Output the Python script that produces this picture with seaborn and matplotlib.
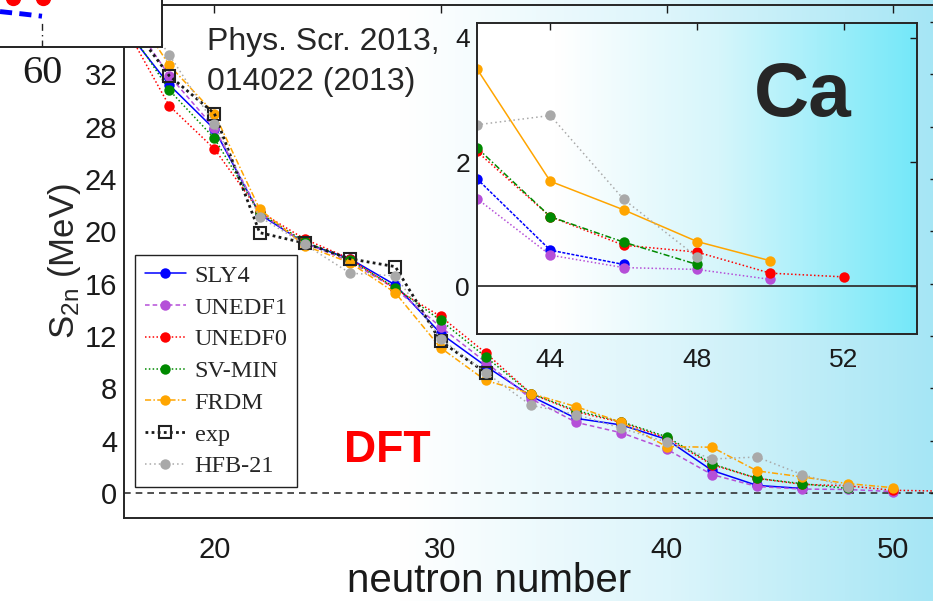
import numpy as np
import matplotlib
matplotlib.use("Agg")
import matplotlib.pyplot as plt
import seaborn as sns
from matplotlib.colors import LinearSegmentedColormap

sns.set_theme(style="white")
plt.rcParams['font.family'] = ['Liberation Sans', 'DejaVu Sans']

# ================================
# DATA (two-neutron separation energies, Ca isotopes)
# ================================
n_all = [16, 18, 20, 22, 24, 26, 28, 30, 32, 34, 36, 38, 40, 42, 44, 46, 48, 50, 52]

sly4   = [35.6, 31.2, 27.8, 21.3, 19.1, 17.9, 15.9, 12.2, 9.7, 7.4, 5.7, 5.2, 4.1, 1.73, 0.58, 0.35]
unedf1 = [37.0, 31.9, 27.9, 21.4, 19.1, 17.7, 15.6, 12.7, 10.0, 7.2, 5.4, 4.6, 3.35, 1.41, 0.50, 0.30, 0.27, 0.11]
unedf0 = [35.8, 29.6, 26.3, 21.5, 19.4, 17.9, 15.6, 13.5, 10.7, 7.6, 6.2, 5.4, 4.2, 2.17, 1.12, 0.66, 0.55, 0.21, 0.15]
svmin  = [36.0, 30.8, 27.1, 21.4, 19.2, 17.8, 15.7, 13.2, 10.4, 7.6, 6.3, 5.45, 4.3, 2.23, 1.12, 0.71, 0.35]
frdm   = [38.0, 32.7, 29.0, 21.7, 18.9, 17.6, 15.3, 11.1, 8.6, 7.6, 6.6, 5.4, 3.55, 3.5, 1.69, 1.23, 0.72, 0.41]
exp    = [36.5, 31.9, 29.0, 19.9, 19.1, 17.9, 17.3, 11.6, 9.2]
hfb21  = [38.5, 33.5, 28.2, 21.1, 19.0, 16.8, 16.6, 11.8, 9.2, 6.7, 6.0, 4.95, 3.9, 2.6, 2.75, 1.4, 0.47]

labels = ['SLY4', 'UNEDF1', 'UNEDF0', 'SV-MIN', 'FRDM', 'exp', 'HFB-21']
series = [sly4, unedf1, unedf0, svmin, frdm, exp, hfb21]
colors = ['#0000ff', '#b54fd8', '#ff0000', '#008a00', '#ffa500', '#1a1a1a', '#a9a9a9']
main_ls = ['-', (0, (3, 2)), (0, (1, 1.5)), (0, (1, 1.5)), (0, (4, 1.5, 1, 1.5)), (0, (1, 1.2)), (0, (1, 2))]
inset_ls = [(0, (2, 1)), (0, (1, 1.5)), (0, (1, 1.5)), (0, (4, 1.5, 1, 1.5)), '-', None, (0, (1, 2))]

# fragment of the neighbouring panel (top-left corner)
frag_x_line = [49.5, 55, 60]
frag_y_line = [4.6, 4.3, 4.0]
frag_x_dots = [52.7, 60.2]
frag_y_dots = [6.3, 6.3]

W, H = 933, 601
fig = plt.figure(figsize=(W / 100, H / 100), dpi=100)

# ================================
# BACKGROUND GRADIENT
# ================================
bg = fig.add_axes([0, 0, 1, 1], zorder=-10)
bg_cmap = LinearSegmentedColormap.from_list(
    'bg', [(0, 'white'), (0.43, 'white'), (0.72, '#dcf5fb'), (1, '#a6e6f5')])
bg.imshow(np.linspace(0, 1, 512)[None, :], cmap=bg_cmap, aspect='auto', extent=[0, 1, 0, 1])
bg.axis('off')

# ================================
# MAIN AXES
# ================================
ax = fig.add_axes([124 / W, 83 / H, 814 / W, 513 / H])
ax.set_facecolor('none')

handles = []
for lab, vals, col, ls in zip(labels, series, colors, main_ls):
    n = n_all[:len(vals)]
    if lab == 'exp':
        sns.lineplot(x=n, y=vals, ax=ax, color=col, linestyle=ls, linewidth=2,
                     marker='s', markersize=9, markerfacecolor='none',
                     markeredgecolor='#222222', markeredgewidth=1.5,
                     estimator=None, sort=False, legend=False)
    else:
        sns.lineplot(x=n, y=vals, ax=ax, color=col, linestyle=ls, linewidth=1.1,
                     marker='o', markersize=7.5, markeredgewidth=0,
                     estimator=None, sort=False, legend=False)
    handles.append(ax.get_lines()[-1])

ax.axhline(0, color='#333333', linestyle=(0, (4, 3)), linewidth=1.2, zorder=0)
ax.set_xlim(16, 52)
ax.set_ylim(-1.91, 37.3)
ax.set_xticks([20, 30, 40, 50])
ax.set_yticks(np.arange(0, 37, 4))
ax.tick_params(axis='both', direction='in', length=6, width=1, top=True, right=True,
               labelsize=21, colors='#1a1a1a')
ax.tick_params(axis='x', pad=13)
ax.tick_params(axis='y', pad=5)
for s in ax.spines.values():
    s.set_color('#262626')
    s.set_linewidth(1.4)
ax.set_xlabel('')
ax.set_ylabel(r'$\mathregular{S_{2n}}$ (MeV)', fontsize=25, labelpad=1)
fig.text(489 / W, 1 / H, 'neutron number', fontsize=29, ha='center', va='bottom',
         color='#1a1a1a')

leg = ax.legend(handles, labels, loc='lower left', bbox_to_anchor=(0.0135, 0.0604),
                borderaxespad=0, frameon=True, fancybox=False, framealpha=1,
                edgecolor='#222222', facecolor='white',
                prop={'family': ['Liberation Serif', 'DejaVu Serif'], 'size': 17.5},
                handlelength=1.7, handletextpad=0.35, labelspacing=0.4, borderpad=0.4)
leg.get_frame().set_linewidth(1.0)

fig.text(207 / W, 1 - 50 / H, 'Phys. Scr. 2013,', fontsize=23, va='baseline', ha='left')
fig.text(207 / W, 1 - 90 / H, '014022 (2013)', fontsize=23, va='baseline', ha='left')
fig.text(387 / W, 1 - 462 / H, 'DFT', fontsize=32, fontweight='bold', color='#ff0000',
         va='baseline', ha='center')

# ================================
# INSET
# ================================
ins = fig.add_axes([477 / W, 1 - 334 / H, 440 / W, 311 / H], zorder=3)
in_cmap = LinearSegmentedColormap.from_list(
    'in', [(0, 'white'), (0.18, 'white'), (0.55, '#d6f6fb'), (1, '#74e8f9')])
ins.imshow(np.linspace(0, 1, 512)[None, :], cmap=in_cmap, aspect='auto',
           extent=[0, 1, 0, 1], transform=ins.transAxes, zorder=0)

for lab, vals, col, ls in zip(labels, series, colors, inset_ls):
    if lab == 'exp':
        continue
    n = [x for x in n_all[:len(vals)] if x >= 42]
    v = vals[len(vals) - len(n):]
    sns.lineplot(x=n, y=v, ax=ins, color=col, linestyle=ls, linewidth=1.1,
                 marker='o', markersize=7.5, markeredgewidth=0,
                 estimator=None, sort=False, legend=False)

ins.axhline(0, color='#333333', linewidth=1.3, zorder=1)
ins.set_xlim(42, 54)
ins.set_ylim(-0.77, 4.24)
ins.set_xticks([44, 48, 52])
ins.set_yticks([0, 2, 4])
ins.tick_params(axis='both', direction='in', length=5, width=1, top=True, right=True,
                labelsize=19, colors='#1a1a1a')
ins.tick_params(axis='x', pad=10)
ins.tick_params(axis='y', pad=5)
for s in ins.spines.values():
    s.set_color('#262626')
    s.set_linewidth(1.4)
ins.set_xlabel('')
ins.set_ylabel('')
ins.text(0.74, 0.70, 'Ca', transform=ins.transAxes, fontsize=55, fontweight='bold',
         ha='center', va='baseline')

# ================================
# NEIGHBOUR PANEL FRAGMENT
# ================================
box = fig.add_axes([-46.6 / W, 1 - 47 / H, 208.6 / W, 77 / H], zorder=5)
box.set_facecolor('white')
box.plot(frag_x_line, frag_y_line, color='#0000ff', linewidth=3.5, linestyle=(0, (2.5, 1.5)))
box.plot(frag_x_dots, frag_y_dots, 'o', color='#ff0000', markersize=10)
box.plot([60, 60], [0, 3.1], color='#222222', linewidth=1, linestyle=(0, (5, 3, 1, 3)))
box.set_xlim(37.85, 90)
box.set_ylim(0, 10)
box.set_xticks([60])
box.set_xticklabels(['60'], fontsize=29, family=['Liberation Serif', 'DejaVu Serif'])
box.set_yticks([])
box.tick_params(axis='x', length=0, pad=6, colors='#1a1a1a')
for s in box.spines.values():
    s.set_color('#222222')
    s.set_linewidth(1.4)

fig.savefig('out.png', dpi=100)
